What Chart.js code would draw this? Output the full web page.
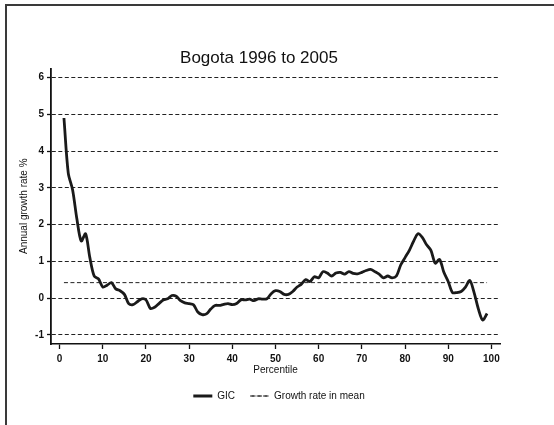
<!DOCTYPE html>
<html>
<head>
<meta charset="utf-8">
<script src="https://cdn.jsdelivr.net/npm/chart.js@4/dist/chart.umd.min.js"></script>
<style>
  html, body { margin: 0; padding: 0; background: #fff; }
  #wrap { position: relative; width: 554px; height: 425px; overflow: hidden; }
  #frame { position: absolute; left: 5px; top: 4px; right: -4px; bottom: -4px;
           border-left: 2px solid #3a3a3a; border-top: 2px solid #3a3a3a; }
  canvas { position: absolute; left: 0; top: 0; }
</style>
</head>
<body>
<div id="wrap">
  <div id="frame"></div>
  <canvas id="myChart" width="554" height="425"></canvas>
</div>
<script>
'use strict';

// percentiles 1..99
const percentiles = [];
for (let p = 1; p <= 99; p++) percentiles.push(p);

// growth incidence curve
const gicValues = [
  4.9, 3.4, 2.95, 2.15, 1.55, 1.75, 1.1, 0.6, 0.52, 0.3,
  0.35, 0.42, 0.25, 0.2, 0.1, -0.15, -0.18, -0.1, -0.02, -0.05,
  -0.28, -0.25, -0.15, -0.05, -0.02, 0.07, 0.05, -0.07, -0.13, -0.15,
  -0.18, -0.38, -0.45, -0.43, -0.3, -0.2, -0.2, -0.17, -0.15, -0.18,
  -0.15, -0.05, -0.05, -0.03, -0.07, -0.02, -0.03, -0.02, 0.12, 0.2,
  0.18, 0.1, 0.1, 0.18, 0.3, 0.38, 0.5, 0.45, 0.58, 0.55,
  0.72, 0.68, 0.6, 0.68, 0.7, 0.65, 0.72, 0.67, 0.66, 0.7,
  0.75, 0.78, 0.72, 0.65, 0.55, 0.6, 0.55, 0.6, 0.9, 1.1,
  1.3, 1.55, 1.75, 1.65, 1.45, 1.3, 0.95, 1.05, 0.7, 0.45,
  0.15, 0.15, 0.18, 0.3, 0.48, 0.15, -0.3, -0.6, -0.42
];

// growth rate in mean (flat line)
const meanRange = [1, 99];
const meanRate = 0.42;

const xTicks = [0, 10, 20, 30, 40, 50, 60, 70, 80, 90, 100];
const yTicks = [-1, 0, 1, 2, 3, 4, 5, 6];

const font = 'Liberation Sans, Arial, sans-serif';

/*legend sits a bit right of the plot centre in the original*/
const shiftLegend = {
    id: 'shiftLegend',
    afterLayout(chart) {
        chart.legend.left += 20;
        chart.legend.right += 20;
    }
};

var ctx = document.getElementById('myChart').getContext('2d');

var chart = new Chart(ctx, {
    type: 'line',
    data: {
        datasets: [{
            label: 'GIC',
            data: percentiles.map((p, i) => ({ x: p, y: gicValues[i] })),
            borderColor: '#1a1a1a',
            backgroundColor: '#1a1a1a',
            borderWidth: 2.8,
            pointRadius: 0,
            tension: 0.3,
        },
        {
            label: 'Growth rate in mean',
            data: meanRange.map(p => ({ x: p, y: meanRate })),
            borderColor: '#222',
            backgroundColor: '#222',
            borderWidth: 1,
            borderDash: [4, 2.5],
            pointRadius: 0,
        }]
    },
    plugins: [shiftLegend],
    options: {
        responsive: false,
        animation: false,
        layout: { padding: { left: 18, right: 54, top: 48, bottom: 14 } },
        plugins: {
            title: {
                display: true,
                text: 'Bogota 1996 to 2005',
                color: '#111',
                font: { family: font, size: 17, weight: 'normal' },
                padding: { top: 0, bottom: 0 },
            },
            legend: {
                position: 'bottom',
                labels: {
                    color: '#111',
                    font: { family: font, size: 10 },
                    padding: 15,
                    boxWidth: 19,
                    boxHeight: 0,
                },
            },
            tooltip: { enabled: false },
        },
        scales: {
            x: {
                type: 'linear',
                min: -2,
                max: 102,
                afterBuildTicks: scale => { scale.ticks = xTicks.map(v => ({ value: v })); },
                afterFit: scale => { scale.height = 32; },
                ticks: { color: '#111', font: { family: font, size: 10, weight: 'bold' }, padding: 4, maxRotation: 0 },
                grid: { drawOnChartArea: false, drawTicks: true, tickLength: 5, color: '#111', tickWidth: 1.3 },
                border: { color: '#111', width: 1.5 },
                title: {
                    display: true,
                    text: 'Percentile',
                    color: '#111',
                    font: { family: font, size: 10 },
                    padding: { top: -5, bottom: 0 },
                },
            },
            y: {
                type: 'linear',
                min: -1.25,
                max: 6.25,
                afterBuildTicks: scale => { scale.ticks = yTicks.map(v => ({ value: v })); },
                afterFit: scale => { scale.width = 33; },
                ticks: { color: '#111', font: { family: font, size: 10, weight: 'bold' }, padding: 3 },
                grid: { color: '#222', lineWidth: 1, tickLength: 4, tickColor: '#111', tickWidth: 1.3 },
                border: { color: '#111', width: 1.8, dash: [4, 2.5] },
                title: {
                    display: true,
                    text: 'Annual growth rate %',
                    color: '#111',
                    font: { family: font, size: 10 },
                    padding: { top: 0, bottom: 0 },
                },
            }
        }
    },
});
</script>
</body>
</html>
